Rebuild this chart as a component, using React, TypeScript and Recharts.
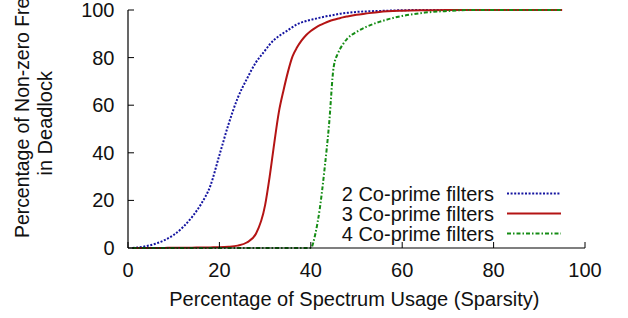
import React from "react";
import { LineChart, Line, XAxis, YAxis, Customized } from "recharts";

const xValues = [1, 2, 4, 6, 8, 10, 12, 14, 16, 18, 20, 22, 24, 26, 28, 30, 31, 32, 33, 34, 35, 36, 37, 38, 39, 40, 41, 42, 43, 44, 45, 46, 47, 48, 50, 52, 55, 60, 65, 70, 75, 80, 85, 90, 95];

const twoFilters = [0, 0.2, 0.8, 1.8, 3.3, 5.5, 8.7, 13, 18.5, 26, 39, 52, 63, 71, 78, 83, 85.5, 87.5, 89, 90.3, 91.5, 92.8, 94, 94.8, 95.4, 95.9, 96.3, 96.8, 97.2, 97.6, 97.9, 98.3, 98.6, 98.8, 99.2, 99.4, 99.6, 99.9, 100, 100, 100, 100, 100, 100, 100];

const threeFilters = [0, 0, 0, 0, 0.05, 0.1, 0.1, 0.15, 0.2, 0.25, 0.3, 0.5, 1.0, 2.3, 6, 18, 30, 44, 57, 66, 74, 80.5, 84.3, 87.2, 89.5, 91.2, 92.5, 93.6, 94.5, 95.3, 95.9, 96.4, 96.9, 97.3, 98, 98.5, 99.2, 99.7, 99.9, 100, 100, 100, 100, 100, 100];

const fourFilters = [0, 0, 0, 0, 0, 0, 0, 0, 0, 0, 0, 0, 0, 0, 0, 0, 0, 0, 0, 0, 0, 0, 0, 0, 0, 0, 6, 17, 33, 52, 76, 82, 85.5, 88, 90.8, 92.8, 95, 97.5, 98.9, 99.6, 100, 100, 100, 100, 100];

const seriesNames = ["2 Co-prime filters", "3 Co-prime filters", "4 Co-prime filters"];
const seriesKeys = ["two", "three", "four"];
const seriesColors = ["#1414a0", "#b41414", "#148c14"];
const seriesDash = ["2 1.6", undefined, "4 2 1.5 2"];

const xTicks = [0, 20, 40, 60, 80, 100];
const yTicks = [0, 20, 40, 60, 80, 100];

const yLabelLine1 = "Percentage of Non-zero Frequencies";
const yLabelLine2 = "in Deadlock";
const xLabel = "Percentage of Spectrum Usage (Sparsity)";

const data = xValues.map((x, i) => ({
  x,
  two: twoFilters[i],
  three: threeFilters[i],
  four: fourFilters[i],
}));

const FONT = "'Liberation Sans', Arial, Helvetica, sans-serif";
const TEXT = "#111";

const XTick = (props: any) => {
  const { x, y, payload } = props;
  return (
    <g>
      <line x1={x} x2={x} y1={y} y2={y - 6} stroke="#000" strokeWidth={1} />
      <text x={x} y={y + 29} textAnchor="middle" fontSize={20} fontFamily={FONT} fill={TEXT}>
        {payload.value}
      </text>
    </g>
  );
};

const YTick = (props: any) => {
  const { x, y, payload } = props;
  return (
    <g>
      <line x1={x} x2={x + 6} y1={y} y2={y} stroke="#000" strokeWidth={1} />
      <text x={x - 13.5} y={y + 7} textAnchor="end" fontSize={20} fontFamily={FONT} fill={TEXT}>
        {payload.value}
      </text>
    </g>
  );
};

const Labels = () => (
  <g fontFamily={FONT} fontSize={20} fill={TEXT}>
    <text transform="translate(29,238) rotate(-90)" textAnchor="start" fontSize={19.4}>{yLabelLine1}</text>
    <text transform="translate(52,123.3) rotate(-90)" textAnchor="middle">{yLabelLine2}</text>
    <text x={354.3} y={306} textAnchor="middle">{xLabel}</text>
    {seriesNames.map((name, i) => (
      <g key={name}>
        <text x={494} y={201 + i * 20} textAnchor="end">{name}</text>
        <line x1={507} x2={561} y1={193.5 + i * 20} y2={193.5 + i * 20} stroke={seriesColors[i]} strokeWidth={2} strokeDasharray={seriesDash[i]} />
      </g>
    ))}
  </g>
);

export default function App() {
  return (
    <div style={{ position: "absolute", left: 0, top: 0, background: "#fff" }}>
      <LineChart width={628} height={318} data={data} margin={{ top: 10, right: 43, bottom: 40, left: 68 }}>
        <XAxis
          type="number"
          dataKey="x"
          domain={[0, 100]}
          ticks={xTicks}
          height={30}
          axisLine={{ stroke: "#000", strokeWidth: 1.2 }}
          tickLine={false}
          tickSize={0}
          tickMargin={0}
          tick={<XTick />}
          interval={0}
        />
        <YAxis
          type="number"
          domain={[0, 100]}
          ticks={yTicks}
          width={60}
          axisLine={{ stroke: "#000", strokeWidth: 1.2 }}
          tickLine={false}
          tickSize={0}
          tickMargin={0}
          tick={<YTick />}
          interval={0}
        />
        {seriesKeys.map((k, i) => (
          <Line
            key={k}
            type="monotone"
            dataKey={k}
            stroke={seriesColors[i]}
            strokeWidth={2}
            strokeDasharray={seriesDash[i]}
            dot={false}
            activeDot={false}
            isAnimationActive={false}
          />
        ))}
        <Customized component={Labels} />
      </LineChart>
    </div>
  );
}
